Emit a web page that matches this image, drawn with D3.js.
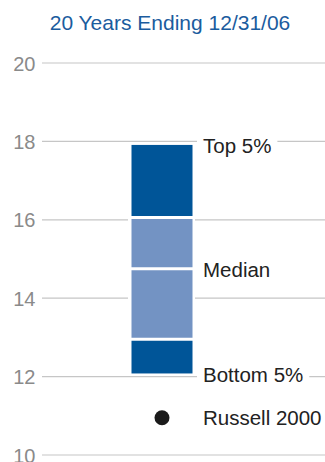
<!DOCTYPE html>
<html><head><meta charset="utf-8">
<script src="https://cdn.jsdelivr.net/npm/d3@7"></script>
<style>body{margin:0;background:#fff}svg{display:block}</style>
</head><body>
<script>
const title = "20 Years Ending 12/31/06";
const yTicks = [10, 12, 14, 16, 18, 20];
// percentile boundaries: bottom 5%, 25th, median, 75th, top 5%
const segLow  = [12.08, 12.95, 14.75, 16.06];
const segHigh = [12.95, 14.75, 16.06, 17.91];
const segKind = ["dark", "light", "light", "dark"];
const labelNames  = ["Top 5%", "Median", "Bottom 5%"];
const labelValues = [17.91, 14.75, 12.08];
const benchmarkName = "Russell 2000";
const benchmarkValue = 10.95;

const W = 325, H = 462;
const svg = d3.select("body").append("svg").attr("width", W).attr("height", H);
const font = "'Liberation Sans', Arial, Helvetica, sans-serif";

const y = d3.scaleLinear().domain([10, 20]).range([455, 63]);
const x = d3.scaleBand().domain(["fund"]).range([131.5, 192.5]).padding(0);

svg.append("text").attr("x", 170).attr("y", 30).attr("text-anchor", "middle")
  .attr("font-family", font).attr("font-size", 21).attr("fill", "#1b5c9e").text(title);

// gridlines
svg.append("g").selectAll("line").data(yTicks).join("line")
  .attr("x1", 42).attr("x2", W).attr("y1", d => y(d)).attr("y2", d => y(d))
  .attr("stroke", "#c6c6c6").attr("stroke-width", 1.2);

// axis labels
const axis = d3.axisLeft(y).tickValues(yTicks).tickSize(0).tickPadding(0);
const ag = svg.append("g").attr("transform", "translate(35.5,0)").call(axis);
ag.select(".domain").remove();
ag.selectAll("text").attr("font-family", font).attr("font-size", 20).attr("fill", "#8a8a8a").attr("dy", "0.35em");

const bx = x("fund"), bw = x.bandwidth();
// white backing behind the bar (interrupts gridlines)
svg.append("rect").attr("x", bx - 3.5).attr("width", bw + 6)
  .attr("y", y(d3.max(segHigh))).attr("height", y(d3.min(segLow)) - y(d3.max(segHigh)))
  .attr("fill", "#fff");

const colors = {dark: "#005598", light: "#7393c3"};
svg.append("g").selectAll("rect").data(segLow.map((lo, i) => ({lo, hi: segHigh[i], k: segKind[i]}))).join("rect")
  .attr("x", bx).attr("width", bw)
  .attr("y", d => y(d.hi)).attr("height", d => y(d.lo) - y(d.hi))
  .attr("fill", d => colors[d.k]);
// separators between segments
svg.append("g").selectAll("line").data(segLow.slice(1)).join("line")
  .attr("x1", bx - 1).attr("x2", bx + bw + 1).attr("y1", d => y(d)).attr("y2", d => y(d))
  .attr("stroke", "#fff").attr("stroke-width", 3);

// labels with white backgrounds
const lg = svg.append("g");
labelNames.forEach((name, i) => {
  const g = lg.append("g");
  const t = g.append("text").attr("x", 203).attr("y", y(labelValues[i]) + 8.5)
    .attr("font-family", font).attr("font-size", 20.5).attr("fill", "#222").text(name);
  const bb = t.node().getBBox();
  g.insert("rect", "text").attr("x", bb.x - 6).attr("y", bb.y).attr("width", bb.width + 12).attr("height", bb.height).attr("fill", "#fff");
});

svg.append("circle").attr("cx", bx + bw / 2).attr("cy", y(benchmarkValue)).attr("r", 7.5).attr("fill", "#1a1a1a");
svg.append("text").attr("x", 203).attr("y", y(benchmarkValue) + 7.5)
  .attr("font-family", font).attr("font-size", 20.5).attr("fill", "#222").text(benchmarkName);
</script>
</body></html>
